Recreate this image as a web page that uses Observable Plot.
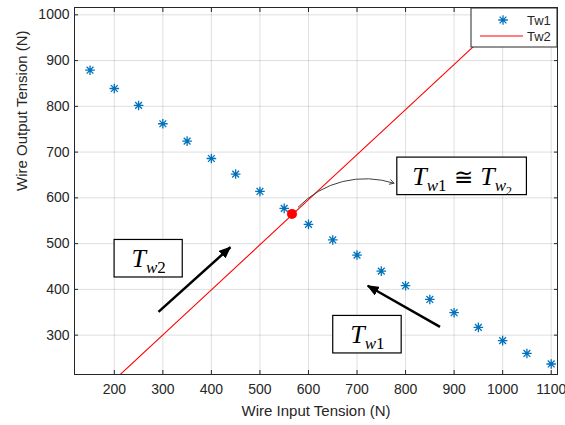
<!DOCTYPE html>
<html><head><meta charset="utf-8">
<script src="https://cdn.jsdelivr.net/npm/d3@7"></script>
<script src="https://cdn.jsdelivr.net/npm/@observablehq/plot@0.6"></script>
<style>html,body{margin:0;padding:0;background:#fff;}</style>
</head><body><div id="chart"></div>
<script>
// ---- data ----
const inputTension = [150,200,250,300,350,400,450,500,550,600,650,700,750,800,850,900,950,1000,1050,1100];
const tw1Values    = [879,839,802,762,724,686,652,614,577,542,508,475,440,408,378,349,317,288,260,237];
const tw2Input     = [200,400,600,800,1000,1100];
const tw2Values    = [202,399,596,793,990,1088];
const meetX = [566];
const meetY = [565];
const xTicks = [200,300,400,500,600,700,800,900,1000,1100];
const yTicks = [300,400,500,600,700,800,900,1000];
const seriesNames = ["Tw1","Tw2"];
const xLabel = "Wire Input Tension (N)";
const yLabel = "Wire Output Tension (N)";
// annotation boxes (data units)
const boxIds = ["Tw2","Tw1","Eq"];
const boxX1 = [200.6, 651, 783];
const boxX2 = [341, 792, 1050];
const boxY1 = [426, 260, 606];
const boxY2 = [508, 342, 688];
// straight arrows
const arrowX1 = [291, 871];
const arrowY1 = [351, 318];
const arrowX2 = [439, 722];
const arrowY2 = [492, 408];
// curved arrow
const curveX1 = [579], curveY1 = [580], curveX2 = [776], curveY2 = [632];

const tw1 = inputTension.map((x,i)=>({x, y: tw1Values[i]}));
const tw2 = tw2Input.map((x,i)=>({x, y: tw2Values[i]}));
const meet = meetX.map((x,i)=>({x, y: meetY[i]}));
const boxes = boxIds.map((id,i)=>({id, x1: boxX1[i], x2: boxX2[i], y1: boxY1[i], y2: boxY2[i], cx:(boxX1[i]+boxX2[i])/2, cy:(boxY1[i]+boxY2[i])/2}));
const arrows = arrowX1.map((x1,i)=>({x1, y1: arrowY1[i], x2: arrowX2[i], y2: arrowY2[i]}));
const curves = curveX1.map((x1,i)=>({x1, y1: curveY1[i], x2: curveX2[i], y2: curveY2[i]}));

const star8 = {draw(ctx, size){
  const r = Math.sqrt(size/Math.PI), d = r*Math.SQRT1_2;
  ctx.moveTo(-r,0); ctx.lineTo(r,0);
  ctx.moveTo(0,-r); ctx.lineTo(0,r);
  ctx.moveTo(-d,-d); ctx.lineTo(d,d);
  ctx.moveTo(-d,d); ctx.lineTo(d,-d);
}};

const triHead = (color) => {
  const m = d3.create("svg:marker")
    .attr("viewBox", "-12 -5 12 10").attr("markerWidth", 12).attr("markerHeight", 10)
    .attr("orient", "auto").attr("markerUnits", "userSpaceOnUse")
    .attr("refX", -1).attr("refY", 0).attr("fill", color).attr("stroke", "none");
  m.append("path").attr("d", "M-12,-5L0,0L-12,5Z");
  return m.node();
};

const blue = "#0072BD";
const ink = "#262626";

const plot = Plot.plot({
  width: 565, height: 425,
  marginLeft: 74, marginRight: 8, marginTop: 7, marginBottom: 51,
  style: {fontFamily: "'Liberation Sans', Arial, sans-serif", fontSize: "14px", color: ink, background: "#fff"},
  x: {domain: [118, 1113], label: null},
  y: {domain: [214, 1016], label: null},
  marks: [
    Plot.gridX(xTicks, {stroke: ink, strokeOpacity: 0.15}),
    Plot.gridY(yTicks, {stroke: ink, strokeOpacity: 0.15}),
    Plot.line(tw2, {x: "x", y: "y", stroke: "#ff0000", strokeWidth: 1.1, clip: true}),
    Plot.dot(tw1, {x: "x", y: "y", symbol: star8, r: 4.8, stroke: blue, strokeWidth: 1.3}),
    Plot.dot(meet, {x: "x", y: "y", r: 5, fill: "#ff0000"}),
    Plot.arrow(curves, {x1: "x1", y1: "y1", x2: "x2", y2: "y2", bend: 32, stroke: "#404040", strokeWidth: 1, headLength: 7}),
    Plot.link(arrows, {x1: "x1", y1: "y1", x2: "x2", y2: "y2", stroke: "#000", strokeWidth: 2.5, markerEnd: triHead}),
    Plot.rect(boxes, {x1: "x1", x2: "x2", y1: "y1", y2: "y2", fill: "#fff", stroke: "#000", strokeWidth: 1.2}),
    Plot.text(boxes, {x: "cx", y: "cy", text: "id", fontFamily: "'Liberation Serif', 'DejaVu Serif', serif", fontSize: 26, fill: "#000", textAnchor: "middle", ariaDescription: "annot"}),
    Plot.frame({stroke: ink, strokeWidth: 1}),
    Plot.axisX(xTicks, {anchor: "bottom", tickSize: 0, tickPadding: 10, tickFormat: d => String(d), fontSize: 14}),
    Plot.axisX(xTicks, {anchor: "bottom", tickSize: -4, tickFormat: () => "", stroke: ink}),
    Plot.axisX(xTicks, {anchor: "top", tickSize: -4, tickFormat: () => "", stroke: ink}),
    Plot.axisY(yTicks, {anchor: "left", tickSize: 0, tickPadding: 5, tickFormat: d => String(d), fontSize: 14}),
    Plot.axisY(yTicks, {anchor: "left", tickSize: -4, tickFormat: () => "", stroke: ink}),
    Plot.axisY(yTicks, {anchor: "right", tickSize: -4, tickFormat: () => "", stroke: ink}),
    Plot.text([xLabel], {frameAnchor: "bottom", dy: 37, text: d => d, fontSize: 15, fill: ink, lineAnchor: "middle"}),
    Plot.text([yLabel], {frameAnchor: "left", dx: -52, rotate: -90, text: d => d, fontSize: 15, fill: ink, lineAnchor: "middle"})
  ]
});
document.getElementById("chart").appendChild(plot);

// rich math labels
const sub = (t) => `<tspan font-style="italic">T</tspan><tspan font-size="17" font-style="italic" dy="6">w</tspan><tspan font-size="17">${t}</tspan>`;
const rich = {
  Tw2: sub("2"),
  Tw1: sub("1"),
  Eq: `<tspan font-style="italic">T</tspan><tspan font-size="17" font-style="italic" dy="6">w</tspan><tspan font-size="17">1</tspan><tspan dy="-6" font-family="'DejaVu Serif', serif" font-size="23"> ≅ </tspan><tspan font-style="italic">T</tspan><tspan font-size="17" font-style="italic" dy="6">w</tspan><tspan font-size="12" dy="4">2</tspan>`
};
d3.select(plot).selectAll('g[aria-description="annot"] text').each(function(){
  const id = this.textContent;
  if (rich[id]) { this.innerHTML = rich[id]; }
});

// legend (top-right corner, pixel positioned relative to frame)
const svg = d3.select(plot);
const fr = {right: 565 - 8, top: 7};
const lg = svg.append("g").attr("font-family", "'Liberation Sans', Arial, sans-serif").attr("font-size", 13).attr("fill", ink).attr("text-anchor", "start");
lg.append("rect").attr("x", fr.right - 86).attr("y", fr.top + 1).attr("width", 86).attr("height", 39)
  .attr("fill", "#fff").attr("stroke", ink).attr("stroke-width", 1);
const sym = d3.symbol().type(star8).size(4.8*4.8*Math.PI)();
lg.append("path").attr("d", sym).attr("transform", `translate(${fr.right - 54},${fr.top + 13})`).attr("stroke", blue).attr("stroke-width", 1.3).attr("fill", "none");
lg.append("line").attr("x1", fr.right - 77).attr("x2", fr.right - 34).attr("y1", fr.top + 29).attr("y2", fr.top + 29).attr("stroke", "#ff0000").attr("stroke-width", 1.1);
lg.append("text").attr("x", fr.right - 30).attr("y", fr.top + 13).attr("dy", "0.35em").text(seriesNames[0]);
lg.append("text").attr("x", fr.right - 30).attr("y", fr.top + 29).attr("dy", "0.35em").text(seriesNames[1]);
</script>
</body></html>
